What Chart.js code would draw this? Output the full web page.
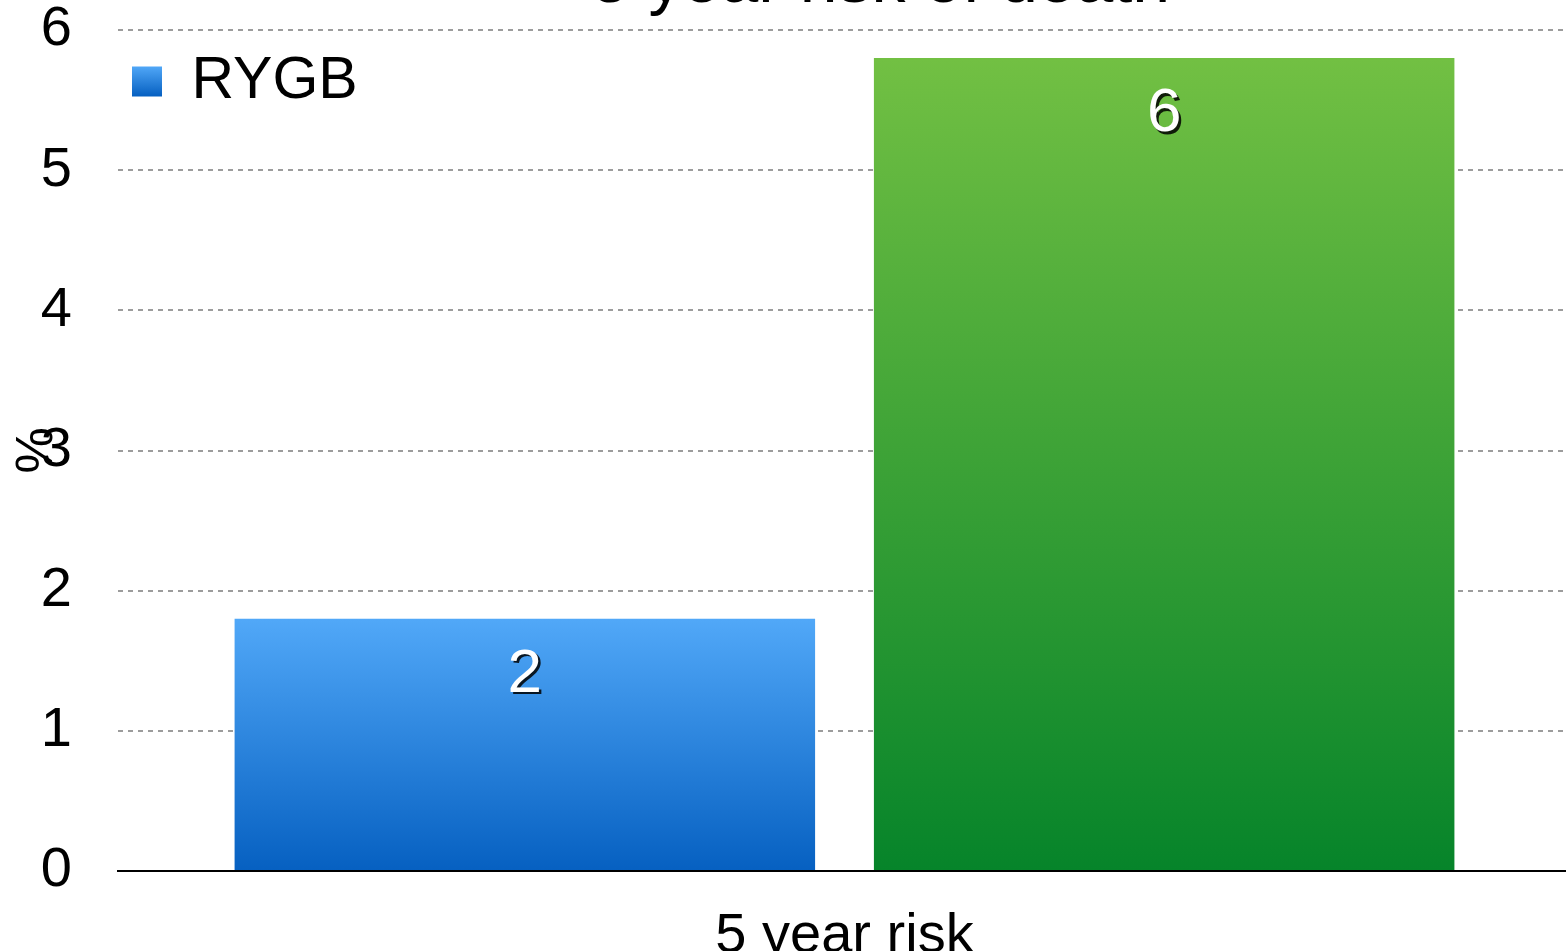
<!DOCTYPE html>
<html>
<head>
<meta charset="utf-8">
<script src="https://cdn.jsdelivr.net/npm/chart.js@4.4.1/dist/chart.umd.min.js"></script>
<style>
    html, body { margin: 0; padding: 0; background: #fff; overflow: hidden; }
    /* the reference is a crop: title cut at the top, axis label cut at the bottom */
    #wrap { position: absolute; left: 0; top: -61px; width: 1762px; height: 1086px; }
</style>
</head>
<body>
<div id="wrap"><canvas id="riskChart"></canvas></div>
<script>
// chart data
const categories = ['5 year risk'];
const seriesNames = ['RYGB', 'Control'];
const rygbValues = [1.8];
const controlValues = [5.8];
const yTicks = [0, 1, 2, 3, 4, 5, 6];

const FONT = '"Liberation Sans", Arial, sans-serif';
Chart.defaults.font.family = FONT;
Chart.defaults.color = '#000';

// vertical gradient running from the bar top down to the zero line
function barGradient(topColor, bottomColor) {
    return (ctx) => {
        const chart = ctx.chart;
        const y = chart.scales.y;
        if (!y || ctx.type !== 'data') return bottomColor;
        const y1 = y.getPixelForValue(ctx.raw);
        const y0 = y.getPixelForValue(0);
        if (!isFinite(y1) || !isFinite(y0) || y1 === y0) return bottomColor;
        const g = chart.ctx.createLinearGradient(0, y1, 0, y0);
        g.addColorStop(0, topColor);
        g.addColorStop(1, bottomColor);
        return g;
    };
}

// white value labels with a dark drop shadow, inside the top of each bar
const valueLabels = {
    id: 'valueLabels',
    afterDatasetsDraw(chart) {
        const ctx = chart.ctx;
        ctx.save();
        ctx.font = '62px ' + FONT;
        ctx.textAlign = 'center';
        ctx.textBaseline = 'middle';
        chart.data.datasets.forEach((ds, i) => {
            chart.getDatasetMeta(i).data.forEach((bar, j) => {
                const txt = String(Math.round(ds.data[j]));
                const y = bar.y + 56;
                ctx.fillStyle = 'rgba(0,0,0,0.85)';
                ctx.fillText(txt, bar.x + 2.5, y + 2.5);
                ctx.fillStyle = '#fff';
                ctx.fillText(txt, bar.x, y);
            });
        });
        ctx.restore();
    }
};

// the 'chartArea' legend keeps top = 0 here, so pin it to the plot top
const legendInPlot = {
    id: 'legendInPlot',
    afterLayout(chart) {
        const lg = chart.legend;
        if (!lg || !chart.chartArea) return;
        const dy = chart.chartArea.top - lg.top;
        lg.top += dy;
        lg.bottom += dy;
        lg.left -= 8;
        lg.right -= 8;
    }
};

const defaultLabels = Chart.defaults.plugins.legend.labels.generateLabels;

new Chart(document.getElementById('riskChart').getContext('2d'), {
    type: 'bar',
    data: {
        labels: categories,
        datasets: [
            { label: seriesNames[0], data: rygbValues, backgroundColor: barGradient('#51a8f8', '#0660c1'), borderWidth: 0 },
            { label: seriesNames[1], data: controlValues, backgroundColor: barGradient('#72c043', '#06842a'), borderWidth: 0 }
        ]
    },
    options: {
        responsive: true,
        maintainAspectRatio: false,
        devicePixelRatio: 1,
        animation: false,
        categoryPercentage: 0.88,
        barPercentage: 0.908,
        layout: { padding: { left: 0, right: 0, top: 0, bottom: 22.8 } },
        scales: {
            x: {
                ticks: { padding: 32, color: '#000', font: { size: 56 } },
                grid: { display: false, drawTicks: false },
                border: { display: true, color: '#000', width: 2 }
            },
            y: {
                min: 0,
                max: 6,
                afterFit(scale) { scale.width = 118; },
                afterBuildTicks(scale) { scale.ticks = yTicks.map(v => ({ value: v })); },
                ticks: { padding: 46, color: '#000', font: { size: 56 } },
                grid: {
                    color: (c) => (c.tick && c.tick.value === 0) ? 'rgba(0,0,0,0)' : '#9c9c9c',
                    lineWidth: 2,
                    drawTicks: false
                },
                border: { display: false, dash: [5, 5] },
                title: { display: true, text: '%', color: '#000', font: { size: 52 }, padding: { top: 6, bottom: 0 } }
            },
            // empty right axis, only there to leave the blank strip the original had
            y2: {
                type: 'linear',
                position: 'right',
                afterFit(scale) { scale.width = 191; },
                ticks: { display: false },
                grid: { display: false, drawTicks: false },
                border: { display: false }
            }
        },
        plugins: {
            title: {
                display: true,
                text: '5 year risk of death',
                color: '#000',
                font: { size: 68, weight: 'normal', lineHeight: 1 },
                padding: { top: 9.8, bottom: 13.2 }
            },
            legend: {
                position: 'chartArea',
                align: 'start',
                labels: {
                    boxWidth: 30,
                    boxHeight: 30,
                    padding: 22,
                    color: '#000',
                    font: { size: 59 },
                    filter: (item) => item.datasetIndex === 0,
                    generateLabels(chart) {
                        const items = defaultLabels(chart);
                        const area = chart.chartArea;
                        const top = (area && isFinite(area.top)) ? area.top + 36 : 66;
                        items.forEach((it) => {
                            const g = chart.ctx.createLinearGradient(0, top, 0, top + 30);
                            if (it.datasetIndex === 0) { g.addColorStop(0, '#51a8f8'); g.addColorStop(1, '#0660c1'); }
                            else { g.addColorStop(0, '#72c043'); g.addColorStop(1, '#06842a'); }
                            it.fillStyle = g;
                            it.lineWidth = 0;
                            it.strokeStyle = 'rgba(0,0,0,0)';
                        });
                        return items;
                    }
                }
            },
            tooltip: { enabled: false }
        }
    },
    plugins: [valueLabels, legendInPlot]
});
</script>
</body>
</html>
